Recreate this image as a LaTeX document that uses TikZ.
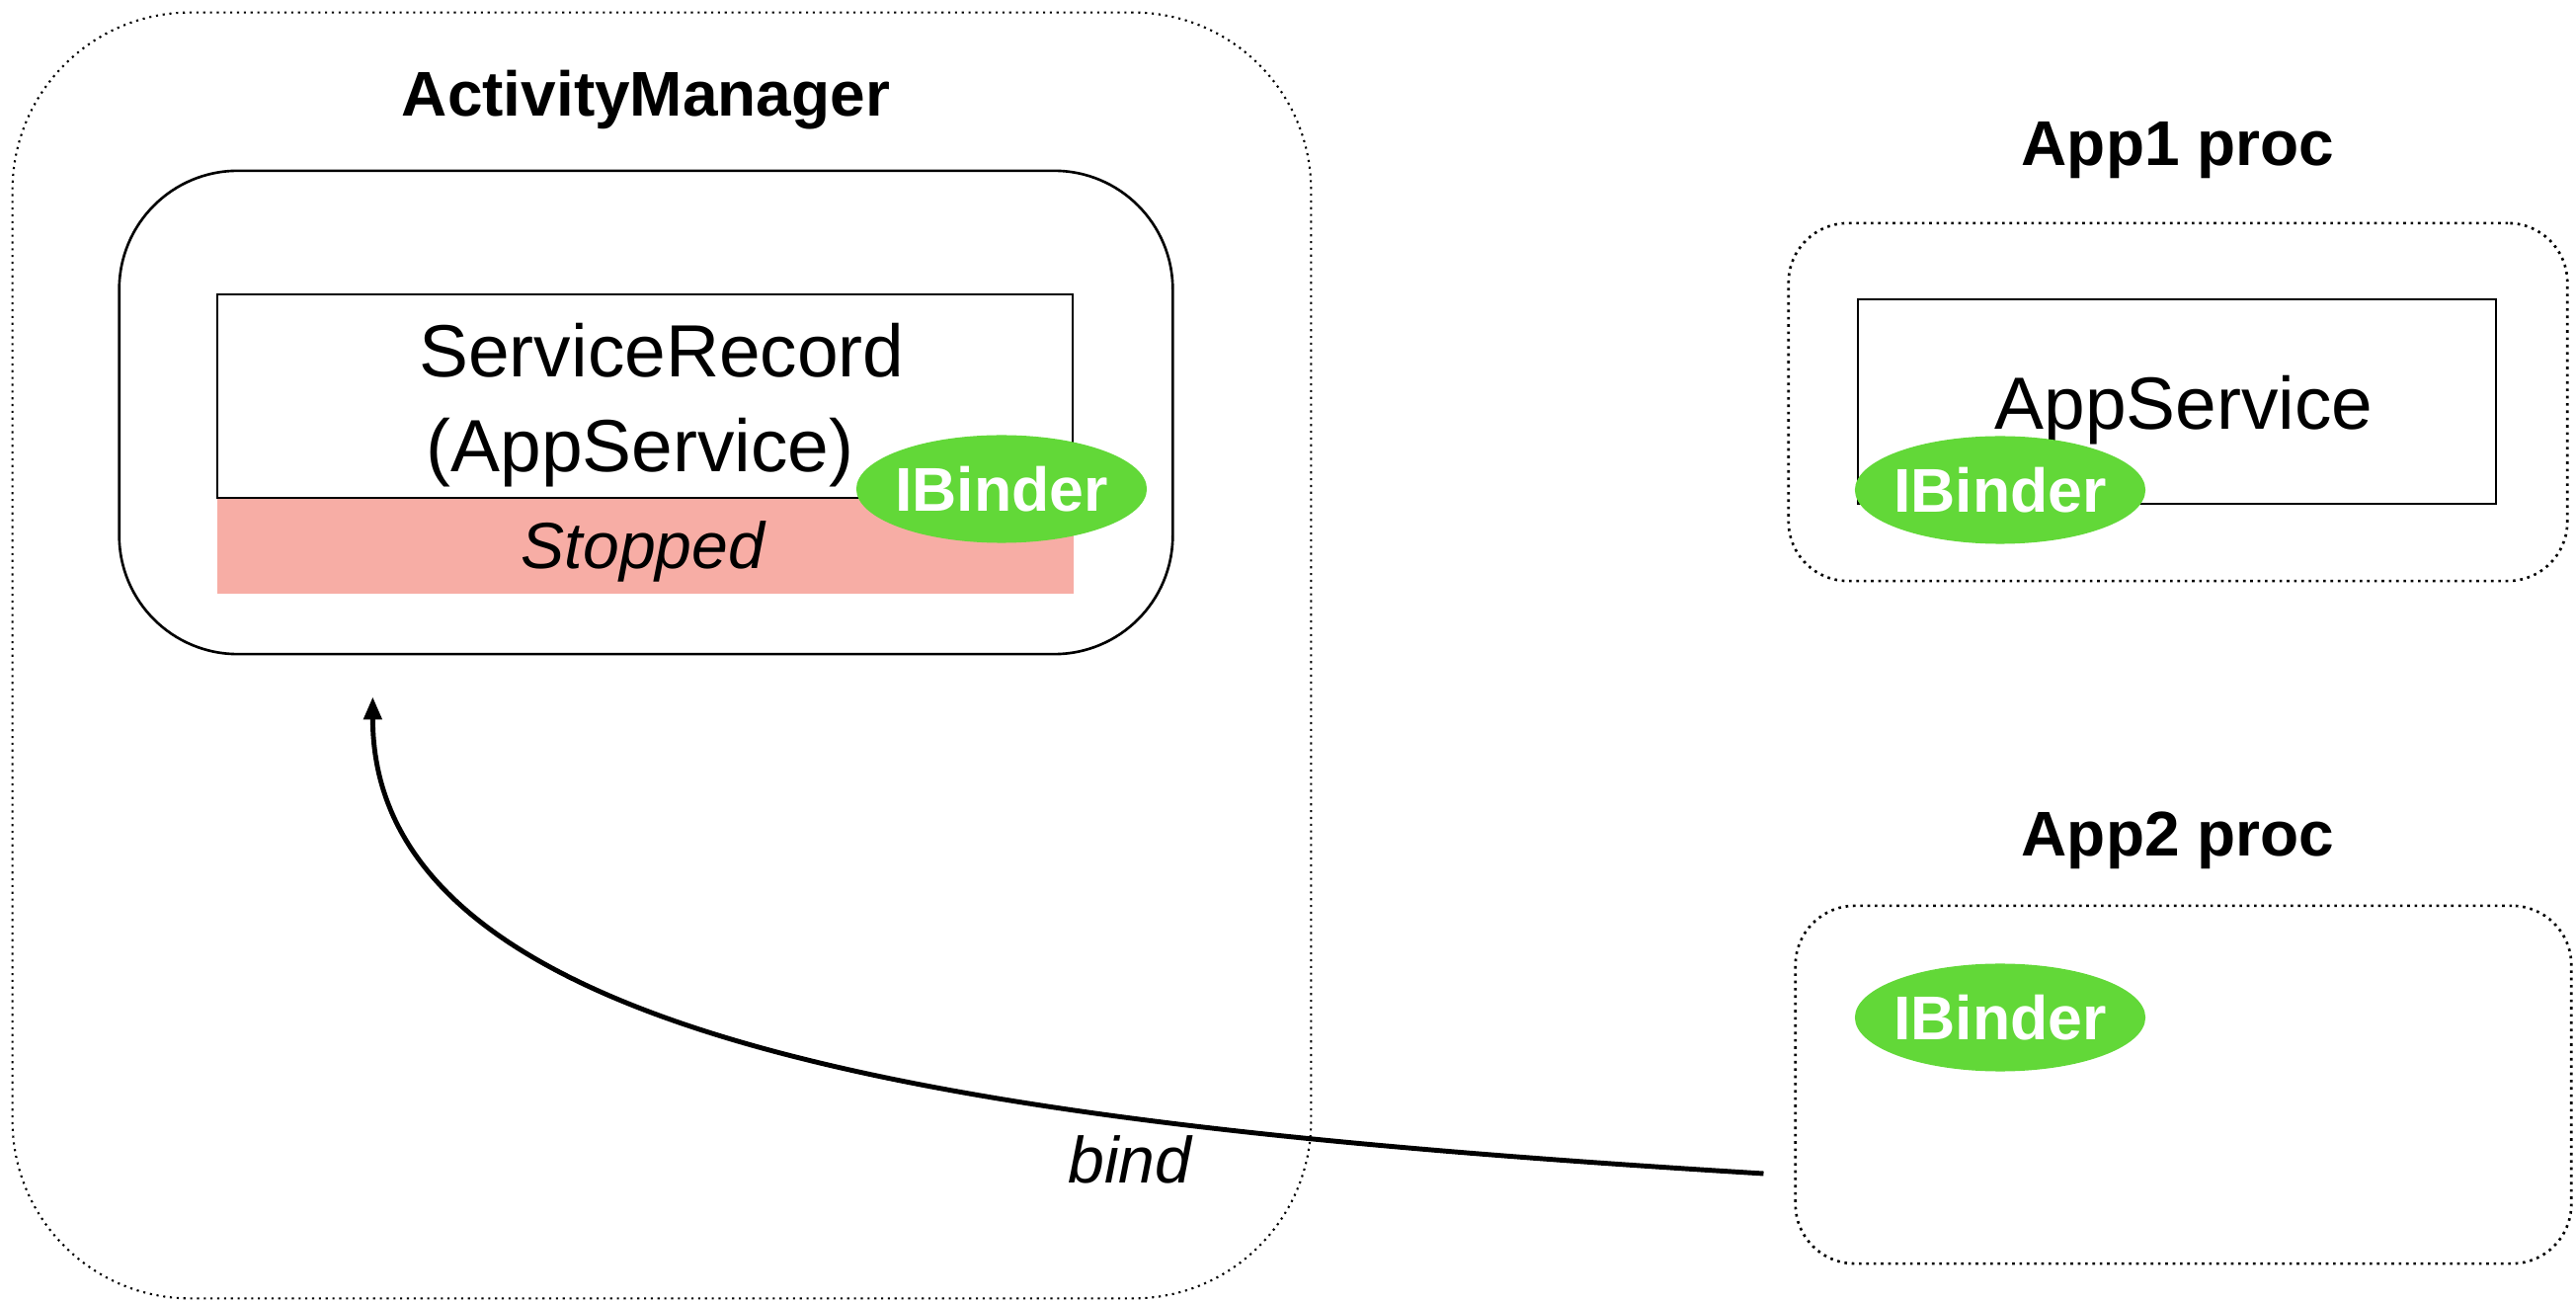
\documentclass[tikz,border=0pt]{standalone}
\usepackage{fontspec}
\setmainfont{Liberation Sans}
\usetikzlibrary{shapes.geometric,arrows.meta,calc}
\definecolor{binder}{RGB}{98,216,56}
\definecolor{stopfill}{RGB}{247,173,165}
\begin{document}
\begin{tikzpicture}[x=0.01cm,y=-0.01cm,
  amframe/.style={draw, line width=0.6pt, dash pattern=on 0.6pt off 1.35pt,
    rounded corners=1.8cm, inner sep=0pt},
  procbox/.style={draw, line width=0.75pt, dash pattern=on 0.75pt off 1.35pt,
    rounded corners=0.6cm, inner sep=0pt},
  holder/.style={draw, line width=0.75pt, rounded corners=1.2cm, inner sep=0pt},
  recbox/.style={draw, fill=white, line width=0.65pt, inner sep=0pt},
  binderdot/.style={ellipse, fill=binder, inner sep=0pt,
    minimum width=2.94cm, minimum height=1.09cm},
  bindertext/.style={text=white, font=\fontsize{17.8pt}{21pt}\selectfont\bfseries, inner sep=0pt},
  title/.style={anchor=base, font=\fontsize{18.2pt}{22pt}\selectfont\bfseries},
  bigtext/.style={anchor=base, font=\fontsize{21.3pt}{26pt}\selectfont},
  slanted/.style={anchor=base, font=\fontsize{18.8pt}{22pt}\selectfont\itshape},
  call/.style={line width=1.4pt, -{Triangle[length=0.23cm, width=0.18cm]}}
]
\useasboundingbox (0,0) rectangle (2608,1319);

% ActivityManager process
\node[amframe, minimum width=13.14cm, minimum height=13.01cm] (am) at (670,663.5) {};
\node[title] (amtitle) at (654,118) {ActivityManager};
\node[holder, minimum width=10.66cm, minimum height=4.89cm] (holder) at (654,417.5) {};
\node[fill=stopfill, inner sep=0pt, minimum width=8.67cm, minimum height=0.97cm] (state) at (653.5,552.5) {};
\node[recbox, minimum width=8.66cm, minimum height=2.06cm] (record) at (653,401) {};
\node[bigtext] (recname) at (670,382) {ServiceRecord};
\node[bigtext] (recsvc) at (648,478) {(AppService)};
\node[slanted] (stopped) at (651,576) {Stopped};
\node[binderdot] (amb) at (1014,495) {};
\node[bindertext] at (amb.center) {IBinder};

% App1 process
\node[title] (app1title) at (2205,168) {App1 proc};
\node[procbox, minimum width=7.88cm, minimum height=3.62cm] (app1) at (2205,407) {};
\node[recbox, minimum width=6.46cm, minimum height=2.07cm] (svc) at (2204,406.5) {};
\node[bigtext] (svcname) at (2211,435) {AppService};
\node[binderdot] (app1b) at (2025,496) {};
\node[bindertext] at (app1b.center) {IBinder};

% App2 process
\node[title] (app2title) at (2205,867) {App2 proc};
\node[procbox, minimum width=7.85cm, minimum height=3.62cm] (app2) at (2210.5,1098) {};
\node[binderdot] (app2b) at (2025,1030) {};
\node[bindertext] at (app2b.center) {IBinder};

% bind call from App2 into ActivityManager
\coordinate (bindfrom) at ($(app2.west)+(-31,90)$);
\coordinate (bindto) at ($(holder.south west)+(258,42)$);
\draw[call] (bindfrom) .. controls ($(bindfrom)+(-787,-48)$) and ($(bindto)+(0,356)$) .. (bindto);
\node[slanted] (bindlbl) at (1144,1198) {bind};
\end{tikzpicture}
\end{document}
